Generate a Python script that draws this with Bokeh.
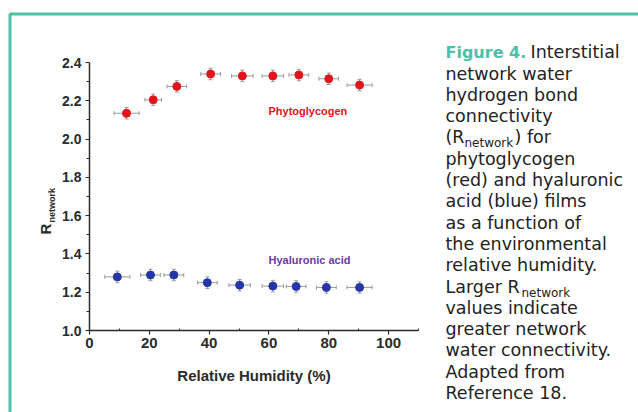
from bokeh.plotting import figure
from bokeh.models import (Range1d, FixedTicker, Whisker, ColumnDataSource, LinearAxis,
                          Label, TeeHead, PrintfTickFormatter)
from bokeh.embed import file_html
from bokeh.resources import INLINE
import math

# ---------------- data ----------------
rh_pg = [12.4, 21.3, 29.2, 40.5, 51.1, 61.3, 70.0, 80.0, 90.3]
r_pg = [2.135, 2.205, 2.275, 2.340, 2.330, 2.330, 2.335, 2.315, 2.282]
xerr_pg = [4.2, 2.8, 3.3, 3.3, 3.6, 3.6, 3.3, 3.3, 4.2]
yerr_pg = [0.03] * 9

rh_ha = [9.3, 20.4, 28.2, 39.4, 50.2, 61.3, 69.1, 79.2, 90.3]
r_ha = [1.280, 1.290, 1.290, 1.250, 1.237, 1.232, 1.230, 1.225, 1.225]
xerr_ha = [4.2, 3.3, 3.3, 3.3, 3.6, 3.6, 3.3, 3.3, 4.2]
yerr_ha = [0.03] * 9

x_ticks = [0, 20, 40, 60, 80, 100]
x_minor = [10, 30, 50, 70, 90, 110]
y_ticks = [1.0, 1.2, 1.4, 1.6, 1.8, 2.0, 2.2, 2.4]
y_minor = [1.1, 1.3, 1.5, 1.7, 1.9, 2.1, 2.3]
x_bounds = (0, 110)
y_bounds = (1.0, 2.4)

series_names = ["Phytoglycogen", "Hyaluronic acid"]
x_label = "Relative Humidity (%)"
y_label_main = "R"
y_label_sub = "network"

caption_lines = [
    [("Figure 4.", "fig"), ("Interstitial", "txt")],
    [("network water", "txt")],
    [("hydrogen bond", "txt")],
    [("connectivity", "txt")],
    [("(R", "txt"), ("network", "sub"), (") for", "txt")],
    [("phytoglycogen", "txt")],
    [("(red) and hyaluronic", "txt")],
    [("acid (blue) films", "txt")],
    [("as a function of", "txt")],
    [("the environmental", "txt")],
    [("relative humidity.", "txt")],
    [("Larger R", "txt"), ("network", "sub")],
    [("values indicate", "txt")],
    [("greater network", "txt")],
    [("water connectivity.", "txt")],
    [("Adapted from", "txt")],
    [("Reference 18.", "txt")],
]

# ---------------- layout / styling ----------------
W, H = 638, 412
PX0, PX1 = 89, 418      # canvas x of x=0 and x=110
PY0, PY1 = 330, 62      # canvas y of y=1.0 and y=2.4
sx = (PX1 - PX0) / (x_bounds[1] - x_bounds[0])
sy = (PY0 - PY1) / (y_bounds[1] - y_bounds[0])


def dx(px):
    return x_bounds[0] + (px - PX0) / sx


def dy(py):
    return y_bounds[0] + (PY0 - py) / sy


RED = "#e3151c"
BLUE = "#2536a6"
PURPLE = "#6a3aa8"
TEAL = "#4fc0a8"
AX = "#2b2b2b"
ERR = "#9a9a9a"
CAP = "#222222"

p = figure(width=W, height=H, x_range=Range1d(dx(0), dx(W)), y_range=Range1d(dy(H), dy(0)),
           output_backend="svg", toolbar_location=None, x_axis_type=None, y_axis_type=None,
           min_border=0, min_border_left=0, min_border_right=0, min_border_top=0,
           min_border_bottom=0)
p.grid.visible = False
p.outline_line_color = None
p.background_fill_color = "white"
p.border_fill_color = "white"

xaxis = LinearAxis(fixed_location=y_bounds[0], bounds=x_bounds,
                   ticker=FixedTicker(ticks=x_ticks, minor_ticks=x_minor))
yaxis = LinearAxis(fixed_location=x_bounds[0], bounds=y_bounds,
                   ticker=FixedTicker(ticks=y_ticks, minor_ticks=y_minor),
                   formatter=PrintfTickFormatter(format="%.1f"))
for ax in (xaxis, yaxis):
    ax.axis_line_color = AX
    ax.axis_line_width = 1.5
    ax.major_tick_line_color = AX
    ax.minor_tick_line_color = AX
    ax.major_tick_line_width = 1.2
    ax.major_tick_out = 4
    ax.major_tick_in = 0
    ax.major_label_text_font = "Liberation Sans"
    ax.major_label_text_font_style = "bold"
    ax.major_label_text_color = AX
yaxis.minor_tick_out = 3
yaxis.minor_tick_in = 0
xaxis.minor_tick_out = 0
xaxis.minor_tick_in = 2
xaxis.major_label_text_font_size = "15px"
yaxis.major_label_text_font_size = "14px"
xaxis.major_label_standoff = 3
yaxis.major_label_standoff = 4
p.add_layout(xaxis, "below")
p.add_layout(yaxis, "left")

# x axis title
p.add_layout(Label(x=dx((PX0 + PX1) / 2), y=dy(375), text=x_label, text_font="Liberation Sans",
                   text_font_style="bold", text_font_size="15px", text_color=AX,
                   text_align="center", text_baseline="middle"))

# error bars + markers
for xs, ys, xe, ye, col in ((rh_pg, r_pg, xerr_pg, yerr_pg, RED),
                            (rh_ha, r_ha, xerr_ha, yerr_ha, BLUE)):
    src = ColumnDataSource(dict(
        x=xs, y=ys,
        xl=[a - b for a, b in zip(xs, xe)], xu=[a + b for a, b in zip(xs, xe)],
        yl=[a - b for a, b in zip(ys, ye)], yu=[a + b for a, b in zip(ys, ye)]))
    p.add_layout(Whisker(source=src, base="y", lower="xl", upper="xu", dimension="width",
                         line_color=ERR, line_width=1,
                         lower_head=TeeHead(size=4, line_color=ERR, line_width=1),
                         upper_head=TeeHead(size=4, line_color=ERR, line_width=1)))
    p.add_layout(Whisker(source=src, base="x", lower="yl", upper="yu", dimension="height",
                         line_color=ERR, line_width=1,
                         lower_head=TeeHead(size=4, line_color=ERR, line_width=1),
                         upper_head=TeeHead(size=4, line_color=ERR, line_width=1)))
    p.scatter("x", "y", source=src, size=8, fill_color=col, line_color=col, marker="circle")

# series labels
p.add_layout(Label(x=dx(268), y=dy(110), text=series_names[0], text_color=RED,
                   text_font="Liberation Sans", text_font_style="bold", text_font_size="11px",
                   text_baseline="middle"))
p.add_layout(Label(x=dx(268), y=dy(259), text=series_names[1], text_color=PURPLE,
                   text_font="Liberation Sans", text_font_style="bold", text_font_size="11px",
                   text_baseline="middle"))

# y axis title (rotated R with subscript)
p.add_layout(Label(x=dx(45), y=dy(234), angle=math.pi / 2, text=y_label_main,
                   text_font="Liberation Sans", text_font_style="bold", text_font_size="15px",
                   text_color=AX, text_align="left", text_baseline="alphabetic"))
p.add_layout(Label(x=dx(51), y=dy(222), angle=math.pi / 2, text=y_label_sub,
                   text_font="Liberation Sans", text_font_style="bold", text_font_size="9px",
                   text_color=AX, text_align="left", text_baseline="alphabetic"))

# teal frame (top and left rules)
p.line(x=[dx(9.5), dx(9.5), dx(W + 5)], y=[dy(H + 5), dy(13.5), dy(13.5)],
       line_color=TEAL, line_width=3)

# caption
run_x = {(0, 1): 530, (4, 1): 464, (4, 2): 514, (11, 1): 521}
for k, line in enumerate(caption_lines):
    yc = 51.7 + k * 21.3
    for j, (txt, kind) in enumerate(line):
        x = run_x.get((k, j), 445)
        if kind == "fig":
            kw = dict(text_color=TEAL, text_font_style="bold", text_font_size="16px")
            y = yc
        elif kind == "sub":
            kw = dict(text_color=CAP, text_font_size="12px")
            y = yc + 6
        else:
            kw = dict(text_color=CAP, text_font_size="17.5px")
            y = yc
        p.add_layout(Label(x=dx(x), y=dy(y), text=txt, text_font="DejaVu Sans",
                           text_baseline="middle", text_align="left", **kw))

open("out.html", "w").write(file_html(p, INLINE))
